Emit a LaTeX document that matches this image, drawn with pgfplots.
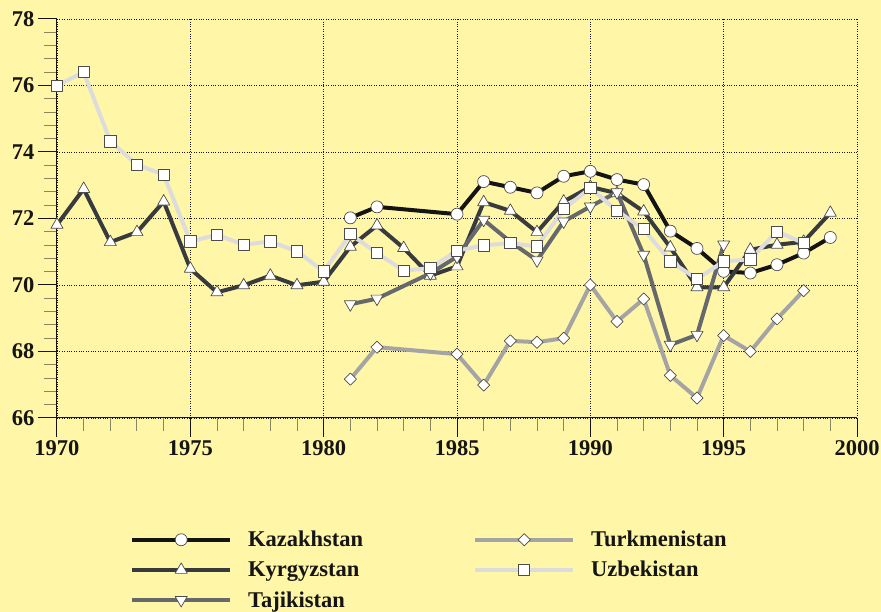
\documentclass[border=0pt]{standalone}
\usepackage{fontspec}
\setmainfont{Liberation Serif}
\usepackage{pgfplots}
\pgfplotsset{compat=1.18}
\definecolor{bgy}{HTML}{FFF6A8}
\definecolor{ckaz}{HTML}{141414}
\definecolor{ckyr}{HTML}{383B3E}
\definecolor{ctaj}{HTML}{66696C}
\definecolor{ctur}{HTML}{A4A4A4}
\definecolor{cuzb}{HTML}{DCDCDC}
\definecolor{txt}{HTML}{151515}
\definecolor{mtick}{HTML}{8A8660}
\begin{document}
\begin{tikzpicture}
\fill[bgy] (-57pt,-194pt) rectangle (824pt,418pt);
\begin{axis}[
  scale only axis, width=800pt, height=399pt,
  xmin=1970, xmax=2000, ymin=66, ymax=78,
  axis lines*=left,
  axis line style={txt, line width=1pt},
  xtick={1970,1975,...,2000}, minor x tick num=4,
  ytick={66,68,...,78}, minor y tick num=4,
  tick align=outside, major tick length=19pt, minor tick length=13pt,
  major tick style={txt, line width=1pt},
  minor tick style={mtick, line width=1pt},
  xmajorgrids, ymajorgrids,
  grid style={dotted, txt, line width=0.7pt},
  /pgf/number format/assume math mode=true,
  xticklabel style={/pgf/number format/1000 sep={}},
  tick label style={font=\bfseries\fontsize{22.5}{22.5}\selectfont, text=txt},
  every axis plot/.append style={line width=4pt, line join=round},
  legend style={at={(0,0)}, anchor=north west, xshift=73pt, yshift=-111pt,
    draw=none, fill=none, inner sep=0pt,
    font=\bfseries\fontsize{22.5}{22.5}\selectfont, text=txt,
    row sep=9pt,
    /tikz/every odd column/.append style={column sep=14pt},
    /tikz/every even column/.append style={column sep=108pt}},
  legend cell align=left,
  transpose legend, legend columns=3,
  legend image code/.code={\draw[mark repeat=2,mark phase=2,#1] plot coordinates {(0pt,0pt) (49pt,0pt) (98pt,0pt)};},
]
\addplot[ckaz, mark=*, mark size=6pt, mark options={fill=white, draw=black!70, line width=0.7pt}] coordinates {
(1981,72.02)(1982,72.35)(1985,72.13)(1986,73.11)(1987,72.94)(1988,72.77)(1989,73.27)(1990,73.42)(1991,73.17)(1992,73.02)(1993,71.62)(1994,71.10)(1995,70.41)(1996,70.36)(1997,70.61)(1998,70.96)(1999,71.43)};
\addlegendentry{Kazakhstan}
\addplot[ckyr, mark=triangle*, mark size=7pt, mark options={fill=white, draw=black!70, line width=0.7pt}] coordinates {
(1970,71.81)(1971,72.89)(1972,71.29)(1973,71.59)(1974,72.51)(1975,70.49)(1976,69.78)(1977,69.99)(1978,70.28)(1979,69.99)(1980,70.10)(1981,71.15)(1982,71.79)(1983,71.11)(1984,70.28)(1985,70.56)(1986,72.49)(1987,72.23)(1988,71.59)(1989,72.51)(1990,72.95)(1991,72.76)(1992,72.21)(1993,71.13)(1994,69.93)(1995,69.93)(1996,71.06)(1997,71.21)(1998,71.30)(1999,72.17)};
\addlegendentry{Kyrgyzstan}
\addplot[ctaj, mark=triangle*, mark size=7pt, mark options={fill=white, draw=black!70, line width=0.7pt, rotate=180}] coordinates {
(1981,69.42)(1982,69.59)(1984,70.35)(1985,70.85)(1986,71.96)(1987,71.30)(1988,70.74)(1989,71.91)(1990,72.36)(1991,72.79)(1992,70.91)(1993,68.20)(1994,68.50)(1995,71.22)};
\addlegendentry{Tajikistan}
\addplot[ctur, mark=square*, mark size=4.3pt, mark options={fill=white, draw=black!70, line width=0.7pt, rotate=45}] coordinates {
(1981,67.17)(1982,68.13)(1985,67.92)(1986,66.99)(1987,68.32)(1988,68.28)(1989,68.40)(1990,70.00)(1991,68.90)(1992,69.58)(1993,67.28)(1994,66.60)(1995,68.48)(1996,68.00)(1997,68.98)(1998,69.83)};
\addlegendentry{Turkmenistan}
\addplot[cuzb, mark=square*, mark size=5.6pt, mark options={fill=white, draw=black!70, line width=0.7pt}] coordinates {
(1970,76.00)(1971,76.40)(1972,74.32)(1973,73.62)(1974,73.32)(1975,71.31)(1976,71.51)(1977,71.21)(1978,71.31)(1979,71.01)(1980,70.41)(1981,71.53)(1982,70.96)(1983,70.43)(1984,70.51)(1985,71.03)(1986,71.19)(1987,71.26)(1988,71.16)(1989,72.28)(1990,72.92)(1991,72.23)(1992,71.68)(1993,70.71)(1994,70.18)(1995,70.71)(1996,70.77)(1997,71.61)(1998,71.26)};
\addlegendentry{Uzbekistan}
\end{axis}
\pgfresetboundingbox
\path (-57pt,-194pt) rectangle (824pt,418pt);
\end{tikzpicture}
\end{document}
